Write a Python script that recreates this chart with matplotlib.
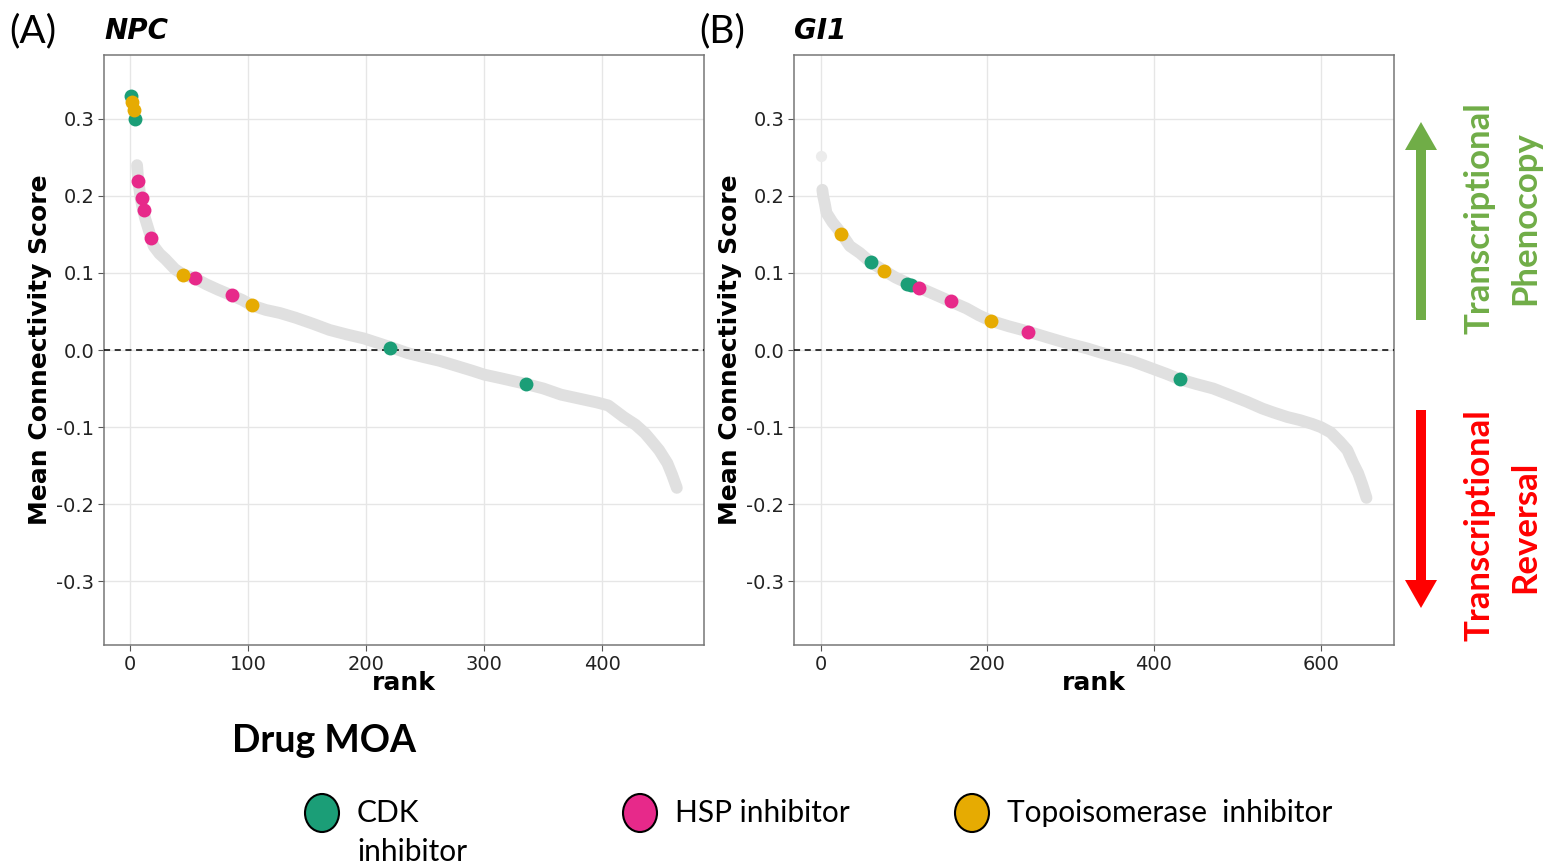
import matplotlib
matplotlib.use("Agg")
import matplotlib.pyplot as plt
from matplotlib.patches import FancyArrow, Ellipse

# grey background curve (rank, mean connectivity score)
npc_rank = [6, 7, 9, 11, 13, 16, 18, 20, 25, 30, 38, 45, 55, 65, 75, 86, 95, 103, 115,
            127, 140, 155, 169, 184, 198, 210, 220, 235, 248, 262, 275, 290, 300, 315,
            335, 350, 365, 380, 395, 405, 418, 428, 436, 441, 448, 455, 459, 463]
npc_score = [0.240, 0.220, 0.197, 0.182, 0.170, 0.155, 0.145, 0.135, 0.125, 0.118, 0.105,
             0.098, 0.093, 0.085, 0.078, 0.071, 0.065, 0.058, 0.052, 0.048, 0.042, 0.034,
             0.026, 0.020, 0.015, 0.009, 0.004, -0.004, -0.009, -0.014, -0.020, -0.027,
             -0.032, -0.037, -0.044, -0.050, -0.058, -0.063, -0.068, -0.072, -0.087,
             -0.097, -0.108, -0.117, -0.130, -0.147, -0.162, -0.179]

gi1_rank = [2, 3, 5, 7, 14, 20, 25, 35, 47, 60, 76, 90, 106, 118, 135, 156, 175, 190, 204,
            225, 249, 270, 295, 320, 335, 355, 375, 395, 415, 431, 450, 471, 490, 511, 530,
            543, 560, 575, 590, 600, 612, 623, 632, 639, 645, 650, 655]
gi1_score = [0.208, 0.200, 0.190, 0.178, 0.166, 0.158, 0.151, 0.135, 0.126, 0.114, 0.103,
             0.094, 0.086, 0.081, 0.073, 0.063, 0.054, 0.045, 0.038, 0.031, 0.024, 0.017,
             0.009, 0.002, -0.003, -0.009, -0.015, -0.023, -0.031, -0.038, -0.044, -0.050,
             -0.058, -0.067, -0.076, -0.081, -0.087, -0.091, -0.096, -0.100, -0.107,
             -0.119, -0.130, -0.147, -0.160, -0.175, -0.192]
gi1_top_rank = [1]
gi1_top_score = [0.252]

# highlighted drugs per MOA
npc_cdk_rank = [1, 4, 220, 335]
npc_cdk_score = [0.330, 0.300, 0.003, -0.044]
npc_hsp_rank = [7, 10, 12, 18, 55, 86]
npc_hsp_score = [0.220, 0.197, 0.182, 0.145, 0.093, 0.071]
npc_topo_rank = [2, 3, 45, 103]
npc_topo_score = [0.322, 0.312, 0.098, 0.058]

gi1_cdk_rank = [60, 104, 108, 431]
gi1_cdk_score = [0.114, 0.086, 0.085, -0.038]
gi1_hsp_rank = [118, 156, 249]
gi1_hsp_score = [0.081, 0.063, 0.024]
gi1_topo_rank = [25, 76, 204]
gi1_topo_score = [0.151, 0.103, 0.038]

moa_labels = ["CDK\ninhibitor", "HSP inhibitor", "Topoisomerase  inhibitor"]
moa_colors = ["#1B9E77", "#E7298A", "#E6AB02"]
yticks = [-0.3, -0.2, -0.1, 0.0, 0.1, 0.2, 0.3]

W, H = 1547, 868
fig = plt.figure(figsize=(W / 100, H / 100), dpi=100)


def panel(left, title, letter, rank, score, extra, moa, xticks, xlim):
    ax = fig.add_axes([left / W, 1 - 645 / H, 600 / W, 590 / H])
    ax.plot(rank, score, color="#e0e0e0", lw=8.5, solid_capstyle="round",
            solid_joinstyle="round", zorder=2)
    if extra:
        ax.scatter(extra[0], extra[1], s=65, color="#ececec", lw=0, zorder=2)
    ax.axhline(0, color="black", lw=1.1, ls=(0, (4, 3)), zorder=3)
    for (r, s), c in zip(moa, moa_colors):
        ax.scatter(r, s, s=100, color=c, lw=0, zorder=4)
    ax.set_xlim(*xlim)
    ax.set_ylim(-0.383, 0.383)
    ax.set_yticks(yticks)
    ax.set_yticklabels([f"{v:.1f}" if v >= 0 else f"-{abs(v):.1f}" for v in yticks])
    ax.set_xticks(xticks)
    ax.grid(True, color="#e6e6e6", lw=1)
    ax.set_axisbelow(True)
    for sp in ax.spines.values():
        sp.set_color("#777777")
        sp.set_linewidth(1.1)
    ax.tick_params(length=4, color="#555555", labelsize=14, labelcolor="#222222", pad=3)
    ax.set_xlabel("rank", fontsize=18, fontweight="bold", labelpad=-2)
    ax.set_ylabel("Mean Connectivity Score", fontsize=18, fontweight="bold", labelpad=3)
    fig.text(left / W, 1 - 31 / H, title, fontsize=20, fontweight="bold",
             style="italic", va="center", ha="left")
    fig.text((left - 95) / W, 1 - 31 / H, letter, fontsize=28, family="Lato",
             va="center", ha="left")
    return ax


panel(104, "NPC", "(A)", npc_rank, npc_score, None,
      [(npc_cdk_rank, npc_cdk_score), (npc_hsp_rank, npc_hsp_score),
       (npc_topo_rank, npc_topo_score)],
      [0, 100, 200, 300, 400], (-22, 486))
panel(794, "GI1", "(B)", gi1_rank, gi1_score, (gi1_top_rank, gi1_top_score),
      [(gi1_cdk_rank, gi1_cdk_score), (gi1_hsp_rank, gi1_hsp_score),
       (gi1_topo_rank, gi1_topo_score)],
      [0, 200, 400, 600], (-32, 688))

# overlay in pixel units for the arrows and the legend
ov = fig.add_axes([0, 0, 1, 1])
ov.set_xlim(0, W)
ov.set_ylim(H, 0)
ov.axis("off")

ov.add_patch(FancyArrow(1421, 320, 0, -198, width=10, head_width=32, head_length=28,
                        length_includes_head=True, color="#70AD47", lw=0))
ov.add_patch(FancyArrow(1421, 410, 0, 198, width=10, head_width=32, head_length=28,
                        length_includes_head=True, color="#FF0000", lw=0))
side = dict(rotation=90, fontsize=25, fontweight="bold", family="Lato",
            ha="center", va="center")
ov.text(1480, 218, "Transcriptional", color="#70AD47", **side)
ov.text(1525, 218, "Phenocopy", color="#70AD47", **side)
ov.text(1480, 525, "Transcriptional", color="#FF0000", **side)
ov.text(1525, 527, "Reversal", color="#FF0000", **side)

ov.text(232, 741, "Drug MOA", fontsize=27, fontweight="bold", family="Lato",
        ha="left", va="center")
for x, lab, c in zip([322, 640, 972], moa_labels, moa_colors):
    ov.add_patch(Ellipse((x, 813), 34, 38, facecolor=c, edgecolor="black", lw=1.5))
    ov.text(x + 35, 813, lab.split("\n")[0], fontsize=21.5, family="Lato",
            ha="left", va="center")
    if "\n" in lab:
        ov.text(x + 35, 852, lab.split("\n")[1], fontsize=21.5, family="Lato",
                ha="left", va="center")

fig.savefig("out.png", dpi=100)
